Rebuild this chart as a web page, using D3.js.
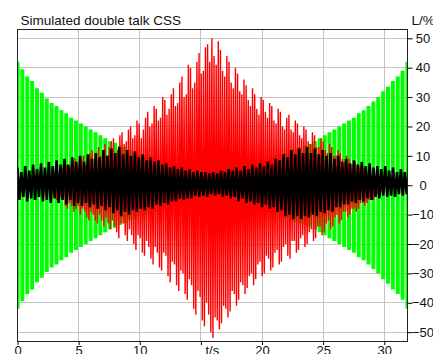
<!DOCTYPE html>
<html>
<head>
<meta charset="utf-8">
<script src="https://cdn.jsdelivr.net/npm/d3@7"></script>
<style>
  body { margin: 0; background: #fff; }
  svg { display: block; }
</style>
</head>
<body>
<script>
// labels
const title = 'Simulated double talk CSS';
const yUnit = 'L/%';
const xTicks = [0, 5, 10, 15, 20, 25, 30];
const xTickLabels = ['0', '5', '10', 't/s', '20', '25', '30'];
const yTicks = [50, 40, 30, 20, 10, 0, -10, -20, -30, -40, -50];

// green signal: spike peaks (±), evenly spaced over the time span
const greenEnd = 31.9;
const greenPeak = [42, 39.5, 37, 35.5, 33, 31.5, 29.5, 28, 27, 25.5,
    24.5, 23, 22, 21, 20, 19, 18, 17, 16, 15,
    14.5, 13.5, 13, 12, 11.5, 10.5, 10, 9.5, 9, 8.5,
    8, 7.5, 7, 6.5, 6, 5.5, 5, 5, 4.5, 4.5,
    4.5, 4.5, 5, 5, 5.5, 6, 6.5, 7, 7.5, 8,
    8.5, 9, 9.5, 10, 10.5, 11, 12, 12.5, 13, 13.5,
    14, 15, 16, 17, 18, 19, 20, 21, 22, 23,
    24.5, 25.5, 27, 28.5, 30, 32, 33.5, 35.5, 37, 39, 42];

// red signal: upper / lower peak per cycle, cycles every 0.175 s from t = 2.6
const redStart = 2.6;
const redStep = 0.175;
const redHi = [3, 2, 5, 4, 4, 5, 6, 4, 7, 5,
    6, 8, 9, 6, 8, 9, 10, 7, 8, 11,
    12, 9, 11, 13, 10, 12, 14, 10, 13, 15,
    16, 11, 12, 17, 18, 14, 15, 19, 20, 16,
    17, 22, 21, 16, 19, 23, 25, 20, 21, 27,
    26, 22, 23, 30, 29, 24, 26, 31, 33, 27,
    28, 35, 37, 30, 31, 41, 40, 33, 35, 42,
    45, 38, 39, 47, 48, 42, 50, 44, 41, 49,
    46, 39, 37, 44, 42, 35, 33, 40, 38, 32,
    31, 36, 34, 29, 27, 33, 31, 26, 24, 30,
    29, 25, 23, 28, 27, 22, 21, 26, 25, 20,
    19, 23, 24, 19, 18, 22, 21, 17, 16, 20,
    19, 15, 14, 18, 17, 13, 13, 16, 15, 12,
    11, 14, 13, 10, 10, 12, 11, 9, 8, 10,
    9, 7, 7, 8, 7, 6, 5, 6, 5, 4,
    4, 3, 3, 3, 2, 2];
const redLo = [-4, -3, -3, -5, -6, -4, -5, -7, -8, -6,
    -7, -9, -8, -7, -10, -8, -9, -11, -12, -9,
    -10, -12, -13, -10, -12, -14, -11, -13, -15, -12,
    -14, -16, -18, -13, -13, -17, -19, -15, -17, -20,
    -22, -17, -18, -23, -24, -19, -21, -25, -27, -21,
    -23, -28, -29, -23, -24, -31, -33, -26, -27, -34,
    -36, -29, -30, -37, -39, -32, -34, -42, -44, -36,
    -38, -46, -48, -40, -44, -50, -52, -45, -46, -49,
    -47, -41, -42, -45, -43, -36, -37, -41, -39, -33,
    -34, -37, -35, -31, -30, -34, -32, -27, -26, -31,
    -30, -24, -25, -29, -28, -23, -22, -27, -26, -21,
    -20, -24, -25, -19, -19, -23, -22, -18, -17, -21,
    -20, -16, -15, -19, -18, -14, -14, -17, -16, -13,
    -12, -15, -14, -11, -10, -13, -12, -9, -9, -11,
    -10, -8, -8, -9, -8, -6, -6, -7, -6, -5,
    -4, -5, -4, -3, -3, -2];

// black signal: upper / lower peak per cycle, cycles every 0.32 s from t = 0
const blackStep = 0.32;
const blackHi = [6, 4.5, 6.5, 5, 7, 5.5, 7.5, 6, 8, 6.5,
    8.5, 7, 9, 7, 9.5, 8, 10, 8, 10.5, 9,
    11, 9.5, 12, 10, 12.5, 11, 13, 10.5, 12, 10,
    11.5, 9.5, 10.5, 8.5, 9.5, 8, 8.5, 7, 7.5, 6,
    6.5, 5.5, 6, 5, 5.5, 4.5, 5, 4.5, 4.5, 4,
    4.5, 4, 5, 4.5, 5.5, 5, 6, 5, 6.5, 5.5,
    7, 6, 7.5, 6.5, 8, 7, 9, 8.5, 10.5, 9.5,
    12, 10.5, 12.5, 11, 13, 11, 12.5, 10.5, 12, 10,
    11, 9, 10, 8, 9, 7.5, 8.5, 7, 8, 6.5,
    7.5, 6, 6.5, 5.5, 6.5, 5, 6, 4.5, 5.5, 4.5, 5];
const blackLo = [-5, -4, -5.5, -4.5, -5, -4, -5.5, -5, -6, -4.5,
    -6, -5, -6.5, -5, -7, -6, -7, -6, -7.5, -6.5,
    -8, -7, -8.5, -7.5, -9.5, -8.5, -10.5, -9, -10, -8.5,
    -9, -8, -8.5, -7.5, -8, -6.5, -7, -6, -6.5, -5.5,
    -5.5, -4.5, -5, -4.5, -4.5, -3.5, -4, -3.5, -4, -3,
    -3.5, -3, -4, -3.5, -4.5, -4, -5.5, -4.5, -6, -5.5,
    -6.5, -6, -7.5, -6.5, -8, -7.5, -9, -8.5, -10.5, -10,
    -11.5, -10.5, -11.5, -10.5, -11, -10, -10.5, -9, -9.5, -8.5,
    -9, -7.5, -7.5, -6.5, -6.5, -5.5, -6, -5, -5.5, -4.5,
    -5, -4, -4.5, -3.5, -4, -3.5, -4, -3, -3.5, -3, -3.5];

const W = 433, H = 354;
const plot = { left: 17.5, right: 407.5, top: 29.5, bottom: 341 };
const font = '"Liberation Sans", Arial, sans-serif';

const svg = d3.select('body').append('svg')
    .attr('width', W)
    .attr('height', H);

const x = d3.scaleLinear().domain([0, 31.9]).range([plot.left, plot.right]);
const y = d3.scaleLinear().domain([-53, 53]).range([plot.bottom, plot.top]);

svg.append('defs').append('clipPath').attr('id', 'clip')
    .append('rect')
    .attr('x', plot.left).attr('y', plot.top)
    .attr('width', plot.right - plot.left)
    .attr('height', plot.bottom - plot.top);

// grid
const grid = svg.append('g').attr('stroke', '#c4c4c4').attr('stroke-width', 1)
    .attr('shape-rendering', 'crispEdges');
grid.selectAll('.gx').data(xTicks).enter().append('line')
    .attr('x1', d => x(d)).attr('x2', d => x(d))
    .attr('y1', plot.top).attr('y2', plot.bottom);
grid.selectAll('.gy').data(yTicks).enter().append('line')
    .attr('x1', plot.left).attr('x2', plot.right)
    .attr('y1', d => y(d)).attr('y2', d => y(d));

const data = svg.append('g').attr('clip-path', 'url(#clip)');

// green spikes
const greenStep = greenEnd / (greenPeak.length - 1);
data.append('g').selectAll('line')
    .data(greenPeak)
    .enter()
    .append('line')
    .attr('x1', (d, i) => x(i * greenStep))
    .attr('x2', (d, i) => x(i * greenStep))
    .attr('y1', d => y(d))
    .attr('y2', d => y(-d))
    .attr('stroke', '#00ff00')
    .attr('stroke-width', 4);

// zig-zag line through upper and lower peaks
const zigzag = (start, step, hi, lo) => {
    const pts = [];
    hi.forEach((v, i) => {
        pts.push([start + i * step, v]);
        pts.push([start + (i + 0.5) * step, lo[i]]);
    });
    return pts;
};
const line = d3.line().x(d => x(d[0])).y(d => y(d[1]));

data.append('path')
    .datum(zigzag(redStart, redStep, redHi, redLo))
    .attr('fill', 'none')
    .attr('stroke', '#ff0000')
    .attr('stroke-width', 1.4)
    .attr('stroke-linejoin', 'bevel')
    .attr('d', line);

data.append('path')
    .datum(zigzag(0, blackStep, blackHi, blackLo))
    .attr('fill', 'none')
    .attr('stroke', '#000')
    .attr('stroke-width', 2.6)
    .attr('stroke-linejoin', 'bevel')
    .attr('d', line);

// frame
svg.append('rect')
    .attr('x', plot.left).attr('y', plot.top)
    .attr('width', plot.right - plot.left)
    .attr('height', plot.bottom - plot.top)
    .attr('fill', 'none')
    .attr('stroke', '#222')
    .attr('shape-rendering', 'crispEdges');

// right axis
const yAxis = svg.append('g')
    .attr('transform', `translate(${plot.right},0)`)
    .call(d3.axisRight(y).tickValues(yTicks).tickSize(5).tickFormat(d3.format('d')));
yAxis.select('.domain').remove();
yAxis.selectAll('text')
    .attr('x', 15.5)
    .attr('text-anchor', 'middle')
    .attr('fill', '#111')
    .attr('font-size', 13)
    .attr('font-family', font);

// bottom axis
const xAxis = svg.append('g')
    .attr('transform', `translate(0,${plot.bottom})`)
    .call(d3.axisBottom(x).tickValues(xTicks).tickSize(4).tickFormat((d, i) => xTickLabels[i]));
xAxis.select('.domain').remove();
xAxis.selectAll('text')
    .attr('y', 5)
    .attr('dx', (d, i) => xTickLabels[i] === 't/s' ? 11 : 0)
    .attr('fill', '#111')
    .attr('font-size', 13)
    .attr('font-family', font);

// titles
svg.append('text')
    .attr('x', 20.5).attr('y', 24.5)
    .attr('font-size', 13.5)
    .attr('font-family', font)
    .attr('fill', '#111')
    .text(title);
svg.append('text')
    .attr('x', 411.5).attr('y', 24.5)
    .attr('font-size', 13.5)
    .attr('font-family', font)
    .attr('fill', '#111')
    .text(yUnit);
</script>
</body>
</html>
